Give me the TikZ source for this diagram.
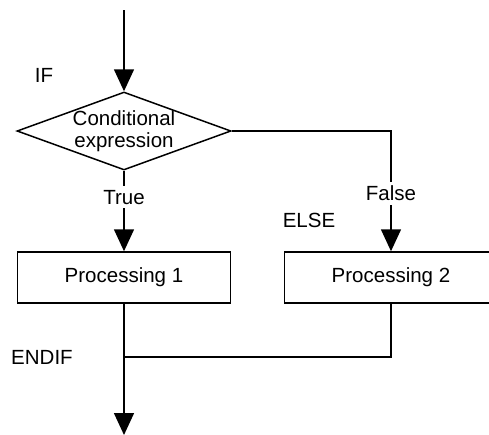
\documentclass[tikz,border=0pt]{standalone}
\usepackage{fontspec}
\setmainfont{Liberation Sans}
\usetikzlibrary{arrows.meta,shapes.geometric}

\begin{document}
\begin{tikzpicture}[x=0.5pt,y=-0.5pt,font=\fontsize{10.25}{11}\selectfont,line width=0.75pt,
      box/.style={draw,minimum width=106.5pt,minimum height=25.5pt,inner sep=0pt},
      cond/.style={draw,diamond,minimum width=107pt,minimum height=39pt,inner sep=0pt},
      a/.style={-{Triangle[length=11pt,width=10pt]}},
      lbl/.style={fill=white,inner sep=2pt}]
      \clip (0,0) rectangle (489,435);
      \node[cond,label={[align=center]center:Conditional\\expression}] (cond) at (124,131) {};
      \node[box] (p1) at (124,277.5) {Processing 1};
      \node[box] (p2) at (391,277.5) {Processing 2};
      \coordinate (start) at (124,10);
      \coordinate (join) at (124,357);
      \coordinate (stop) at (124,435);
      \node (if) at (44,75) {IF};
      \node (else) at (309,220) {ELSE};
      \node (endif) at (42,357) {ENDIF};
      \draw[a] (start)--(cond); \draw[a] (cond.south)--node[lbl,pos=.33]{True}(p1);
      \draw[a] (cond.east)-|node[lbl,pos=.76]{False}(p2);
      \draw (p2.south)|-(join); \draw[a] (p1)--(stop);
    \end{tikzpicture}
\end{document}
